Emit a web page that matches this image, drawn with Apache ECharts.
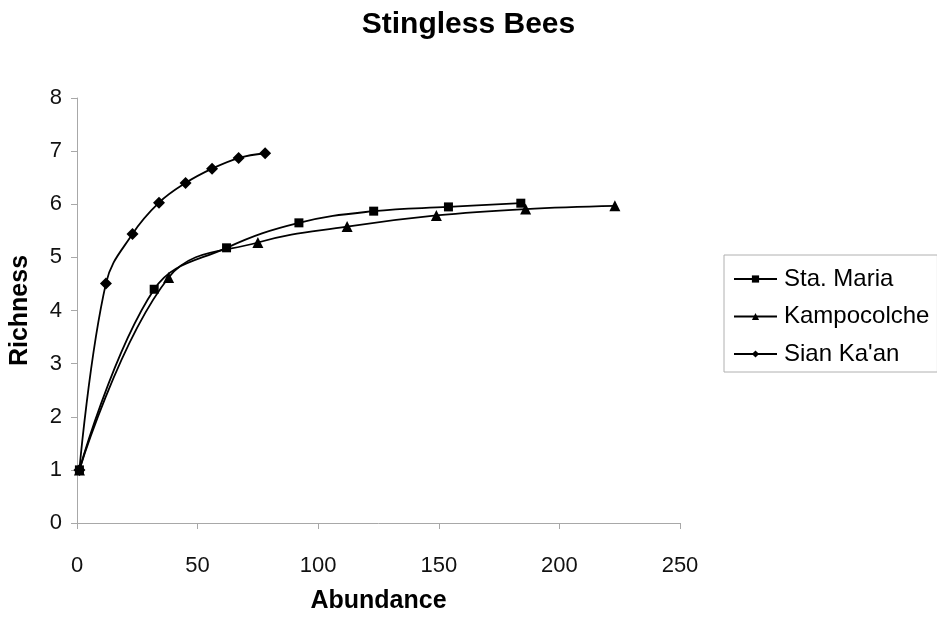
<!DOCTYPE html>
<html>
<head>
<meta charset="utf-8">
<script src="https://cdn.jsdelivr.net/npm/echarts@6/dist/echarts.min.js"></script>
<style>
html,body{margin:0;padding:0;background:#fff;}
#chart{width:937px;height:619px;}
</style>
</head>
<body>
<div id="chart"></div>
<script>
var seriesNames = ["Sta. Maria", "Kampocolche", "Sian Ka'an"];
var staMariaX = [1, 32, 62, 92, 123, 154, 184];
var staMariaY = [1, 4.4, 5.18, 5.65, 5.87, 5.95, 6.02];
var kampoX = [1, 38, 75, 112, 149, 186, 223];
var kampoY = [1, 4.62, 5.28, 5.58, 5.79, 5.91, 5.97];
var sianX = [1, 12, 23, 34, 45, 56, 67, 78];
var sianY = [1, 4.51, 5.44, 6.03, 6.40, 6.67, 6.87, 6.96];

function pairs(xs, ys) { return xs.map(function (x, i) { return [x, ys[i]]; }); }

var FONT = "Liberation Sans";
var chart = echarts.init(document.getElementById('chart'), null, {renderer: 'canvas'});

function lineSeries(name, data, symbol, size) {
  return {
    name: name, type: 'line', data: data, smooth: 0.4,
    symbol: symbol, symbolSize: size, showSymbol: true,
    lineStyle: {color: '#000', width: 1.8},
    itemStyle: {color: '#000'},
    emphasis: {disabled: true},
    animation: false
  };
}

chart.setOption({
  backgroundColor: '#fff',
  animation: false,
  title: {
    text: 'Stingless Bees', left: 'center', top: 5,
    textStyle: {fontFamily: FONT, fontSize: 30, fontWeight: 'bold', color: '#000'}
  },
  grid: {left: 77, right: 257, top: 98, bottom: 91},
  legend: {
    orient: 'vertical', left: 724, top: 255,
    padding: [12, 8, 6, 9],
    itemWidth: 43, itemHeight: 9, itemGap: 13.5,
    borderColor: '#b0b0b0', borderWidth: 1,
    textStyle: {fontFamily: FONT, fontSize: 24, color: '#000', lineHeight: 24, padding: [0, 0, 0, 2]},
    data: seriesNames
  },
  xAxis: {
    type: 'value', min: 0, max: 250, interval: 50,
    name: 'Abundance', nameLocation: 'middle', nameGap: 66,
    nameTextStyle: {fontFamily: FONT, fontSize: 25, fontWeight: 'bold', color: '#000'},
    axisLine: {show: true, onZero: false, lineStyle: {color: '#a8a8a8', width: 1}},
    axisTick: {show: true, inside: false, length: 6, lineStyle: {color: '#a8a8a8'}},
    axisLabel: {fontFamily: FONT, fontSize: 22, color: '#111', margin: 32},
    splitLine: {show: false}
  },
  yAxis: {
    type: 'value', min: 0, max: 8, interval: 1,
    name: 'Richness', nameLocation: 'middle', nameGap: 44, nameRotate: 90,
    nameTextStyle: {fontFamily: FONT, fontSize: 25, fontWeight: 'bold', color: '#000'},
    axisLine: {show: true, lineStyle: {color: '#a8a8a8', width: 1}},
    axisTick: {show: true, inside: false, length: 6, lineStyle: {color: '#a8a8a8'}},
    axisLabel: {fontFamily: FONT, fontSize: 22, color: '#111', margin: 15},
    splitLine: {show: false}
  },
  series: [
    lineSeries(seriesNames[0], pairs(staMariaX, staMariaY), 'rect', 9),
    lineSeries(seriesNames[1], pairs(kampoX, kampoY), 'triangle', 11),
    lineSeries(seriesNames[2], pairs(sianX, sianY), 'diamond', 12)
  ]
});
</script>
</body>
</html>
